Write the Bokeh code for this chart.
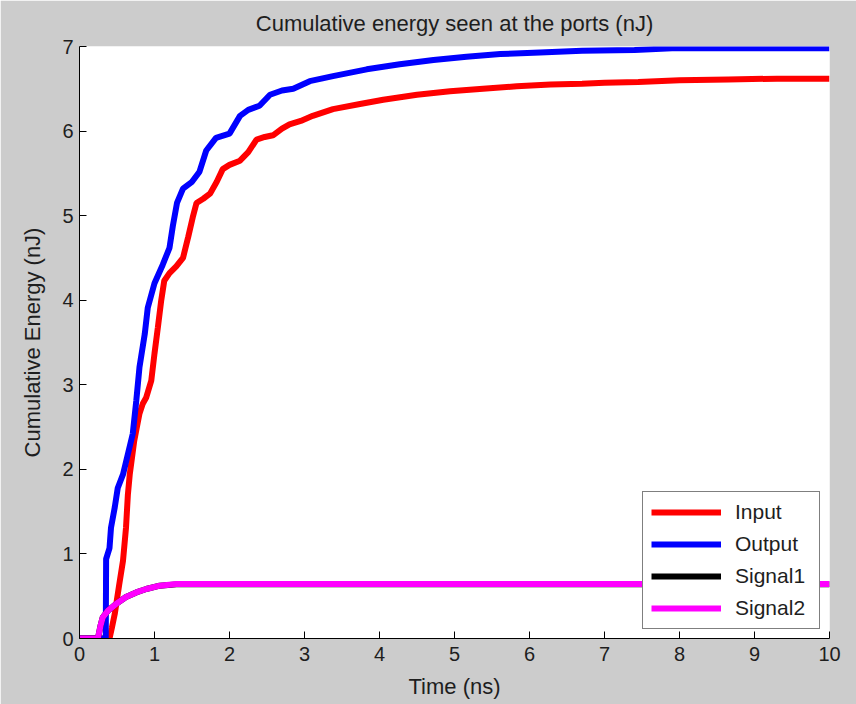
from bokeh.plotting import figure
from bokeh.models import Range1d, Title, Legend, LegendItem, FixedTicker
from bokeh.embed import file_html
from bokeh.resources import INLINE

# ---- data ----
input_t = [0, 0.40, 0.43, 0.47, 0.53, 0.58, 0.62, 0.645, 0.67, 0.73, 0.80, 0.845, 0.89, 0.957,
           1.0, 1.045, 1.09, 1.13, 1.20, 1.29, 1.38, 1.45, 1.51, 1.56, 1.65, 1.74, 1.83, 1.91,
           2.0, 2.14, 2.25, 2.36, 2.47, 2.58, 2.70, 2.80, 2.95, 3.11, 3.38, 3.74, 4.05, 4.5,
           4.94, 5.38, 5.83, 6.28, 6.7, 7.0, 7.45, 8.0, 8.65, 9.3, 10]
input_e = [0, 0, 0.12, 0.29, 0.64, 0.92, 1.31, 1.70, 1.94, 2.34, 2.66, 2.78, 2.85, 3.05,
           3.37, 3.68, 4.0, 4.23, 4.32, 4.40, 4.50, 4.75, 4.98, 5.15, 5.20, 5.26, 5.40, 5.55,
           5.60, 5.65, 5.75, 5.90, 5.93, 5.95, 6.03, 6.08, 6.12, 6.18, 6.26, 6.32, 6.37, 6.43,
           6.47, 6.50, 6.53, 6.55, 6.56, 6.57, 6.58, 6.60, 6.61, 6.62, 6.62]

output_t = [0, 0.35, 0.355, 0.40, 0.42, 0.47, 0.51, 0.58, 0.645, 0.71, 0.757, 0.80, 0.87, 0.91,
            1.0, 1.11, 1.20, 1.245, 1.30, 1.38, 1.50, 1.60, 1.69, 1.82, 2.0, 2.14, 2.25, 2.40,
            2.54, 2.7, 2.85, 3.07, 3.38, 3.83, 4.27, 4.72, 5.16, 5.61, 6.14, 6.7, 7.4, 7.9, 10]
output_e = [0, 0, 0.94, 1.07, 1.31, 1.55, 1.78, 1.94, 2.18, 2.42, 2.81, 3.21, 3.60, 3.91,
            4.20, 4.42, 4.62, 4.88, 5.15, 5.32, 5.40, 5.52, 5.77, 5.92, 5.97, 6.18, 6.25, 6.30,
            6.43, 6.48, 6.50, 6.59, 6.65, 6.73, 6.79, 6.84, 6.88, 6.91, 6.93, 6.95, 6.96, 6.98, 6.98]

signal_t = [0, 0.245, 0.28, 0.31, 0.38, 0.49, 0.62, 0.757, 0.89, 1.07, 1.29, 10]
signal1_e = [0, 0, 0.15, 0.25, 0.33, 0.41, 0.49, 0.545, 0.585, 0.625, 0.64, 0.64]
signal2_e = [0, 0, 0.15, 0.25, 0.33, 0.41, 0.49, 0.545, 0.585, 0.625, 0.645, 0.645]

x_ticks = list(range(0, 11))
y_ticks = list(range(0, 8))

title_text = "Cumulative energy seen at the ports (nJ)"

FONT = "Liberation Sans"
TXT = "#1e1e1e"

p = figure(width=856, height=704, output_backend="svg", toolbar_location=None,
           x_range=Range1d(0, 10), y_range=Range1d(0, 7),
           min_border_left=79, min_border_right=27, min_border_top=46, min_border_bottom=66)
p.title = Title(text=title_text, align="center", vertical_align="top",
                text_font=FONT, text_font_size="22px", text_font_style="normal",
                text_color=TXT, standoff=18)
p.background_fill_color = "white"
p.border_fill_color = "#cccccc"
p.outline_line_color = None
p.grid.visible = False

for ax in (p.xaxis[0], p.yaxis[0]):
    ax.axis_line_color = "black"
    ax.major_tick_line_color = "black"
    ax.major_tick_in = 7
    ax.major_tick_out = 0
    ax.minor_tick_line_color = None
    ax.major_label_text_font = FONT
    ax.major_label_text_font_size = "20px"
    ax.major_label_text_color = TXT
    ax.axis_label_text_font = FONT
    ax.axis_label_text_font_size = "22px"
    ax.axis_label_text_font_style = "normal"
    ax.axis_label_text_color = TXT

p.xaxis.ticker = FixedTicker(ticks=x_ticks)
p.yaxis.ticker = FixedTicker(ticks=y_ticks)
p.xaxis.axis_label = "Time (ns)"
p.yaxis.axis_label = "Cumulative Energy (nJ)"
p.xaxis.major_label_standoff = 8
p.yaxis.major_label_standoff = 6
p.xaxis.axis_label_standoff = 10
p.yaxis.axis_label_standoff = 14

r_in = p.line(input_t, input_e, line_color="#ff0000", line_width=6)
r_out = p.line(output_t, output_e, line_color="#0000ff", line_width=6)
r_s1 = p.line(signal_t, signal1_e, line_color="black", line_width=6)
r_s2 = p.line(signal_t, signal2_e, line_color="#ff00ff", line_width=6)

legend = Legend(items=[LegendItem(label="Input", renderers=[r_in]),
                       LegendItem(label="Output", renderers=[r_out]),
                       LegendItem(label="Signal1", renderers=[r_s1]),
                       LegendItem(label="Signal2", renderers=[r_s2])],
                location="bottom_right", margin=9, padding=8, spacing=8,
                glyph_width=70, glyph_height=24, label_height=24, label_width=76,
                label_standoff=14, label_text_font=FONT, label_text_font_size="21px",
                label_text_color=TXT, border_line_color="black", border_line_width=1,
                background_fill_color="white", background_fill_alpha=1)
p.add_layout(legend)

open("out.html", "w").write(file_html(p, INLINE))
